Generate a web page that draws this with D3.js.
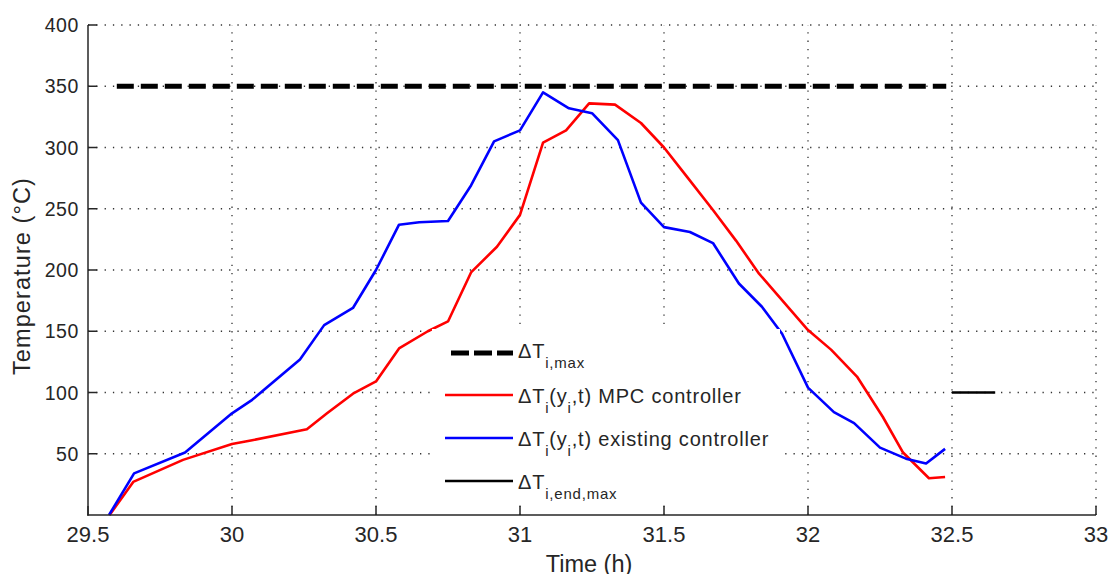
<!DOCTYPE html>
<html><head><meta charset="utf-8">
<script src="https://cdn.jsdelivr.net/npm/d3@7"></script>
<style>body{margin:0;background:#fff}svg{display:block}text{font-family:Arial,"Liberation Sans",sans-serif;fill:#262626}</style>
</head><body><svg id="c" width="1108" height="574"></svg>
<script>
const xTicks = [29.5, 30, 30.5, 31, 31.5, 32, 32.5, 33];
const yTicks = [50, 100, 150, 200, 250, 300, 350, 400];

const mpcTime = [29.575, 29.657, 29.83, 30.0, 30.07, 30.26, 30.33, 30.42, 30.5, 30.58, 30.68, 30.75, 30.83, 30.92, 31.0, 31.08, 31.16, 31.24, 31.33, 31.42, 31.5, 31.58, 31.67, 31.75, 31.83, 32.0, 32.08, 32.17, 32.26, 32.33, 32.42, 32.476];
const mpcTemp = [0, 27, 45, 58, 61, 70, 83, 99, 109, 136, 150, 158, 198, 219, 245, 304, 314, 336, 335, 320, 300, 276, 249, 224, 197, 151, 135, 113, 80, 51, 30, 31];

const existTime = [29.573, 29.66, 29.837, 30.0, 30.07, 30.236, 30.32, 30.42, 30.5, 30.58, 30.65, 30.75, 30.83, 30.91, 31.0, 31.08, 31.17, 31.25, 31.34, 31.42, 31.5, 31.59, 31.67, 31.76, 31.84, 31.91, 32.0, 32.09, 32.16, 32.25, 32.34, 32.41, 32.476];
const existTemp = [0, 34, 51, 83, 94, 127, 155, 169, 200, 237, 239, 240, 269, 305, 314, 345, 332, 328, 306, 255, 235, 231, 222, 189, 170, 148, 104, 84, 75, 55, 46, 42, 54];

const maxTime = [29.6, 32.48];
const maxTemp = [350, 350];
const endTime = [32.5, 32.65];
const endTemp = [100, 100];

const svg = d3.select("#c");
const x = d3.scaleLinear().domain([29.5, 33]).range([88, 1096]);
const y = d3.scaleLinear().domain([0, 400]).range([515, 25]);

const grid = svg.append("g").attr("stroke", "#333").attr("stroke-width", 1.3).attr("stroke-dasharray", "1.3,7");
xTicks.slice(1).forEach(t => grid.append("line").attr("x1", x(t)).attr("x2", x(t)).attr("y1", y(0)).attr("y2", y(400)));
yTicks.forEach(t => grid.append("line").attr("x1", x(29.5)).attr("x2", x(33)).attr("y1", y(t)).attr("y2", y(t)));

const line = d3.line().x(d => x(d[0])).y(d => y(d[1]));
const zip = (a, b) => a.map((v, i) => [v, b[i]]);

svg.append("path").attr("d", line(zip(maxTime, maxTemp))).attr("fill", "none").attr("stroke", "#000").attr("stroke-width", 5).attr("stroke-dasharray", "17,7");
svg.append("path").attr("d", line(zip(endTime, endTemp))).attr("fill", "none").attr("stroke", "#000").attr("stroke-width", 2.5);
svg.append("path").attr("d", line(zip(mpcTime, mpcTemp))).attr("fill", "none").attr("stroke", "#ff0000").attr("stroke-width", 2.6).attr("stroke-linejoin", "round");
svg.append("path").attr("d", line(zip(existTime, existTemp))).attr("fill", "none").attr("stroke", "#0000ff").attr("stroke-width", 2.6).attr("stroke-linejoin", "round");

// legend
const lg = svg.append("g");
lg.append("rect").attr("x", 432).attr("y", 329).attr("width", 348).attr("height", 176).attr("fill", "#fff");
const entries = [
  {ly: 353, by: 358, stroke: "#000", w: 5, dash: "18,5", x1: 451, parts: [["ΔT", 0], ["i,max", 1]]},
  {ly: 395, by: 403, stroke: "#ff0000", w: 2.6, dash: null, x1: 445, parts: [["ΔT", 0], ["i", 1], ["(y", 0], ["i", 1], [",t) MPC controller", 0]]},
  {ly: 438, by: 446, stroke: "#0000ff", w: 2.6, dash: null, x1: 445, parts: [["ΔT", 0], ["i", 1], ["(y", 0], ["i", 1], [",t) existing controller", 0]]},
  {ly: 481, by: 489, stroke: "#000", w: 2.5, dash: null, x1: 445, parts: [["ΔT", 0], ["i,end,max", 1]]}
];
entries.forEach(e => {
  const l = lg.append("line").attr("x1", e.x1).attr("x2", 513).attr("y1", e.ly).attr("y2", e.ly).attr("stroke", e.stroke).attr("stroke-width", e.w);
  if (e.dash) l.attr("stroke-dasharray", e.dash);
  const t = lg.append("text").attr("x", 518).attr("y", e.by).attr("font-size", 20).attr("letter-spacing", 0.8);
  let prev = 0;
  e.parts.forEach(p => {
    const sub = p[1];
    const dy = sub ? 10 : (prev ? -10 : 0);
    t.append("tspan").attr("dy", dy).attr("font-size", sub ? 15 : 20).text(p[0]);
    prev = sub;
  });
});

// axes
const ax = svg.append("g").attr("stroke", "#262626").attr("stroke-width", 1.5);
ax.append("line").attr("x1", x(29.5)).attr("x2", x(29.5)).attr("y1", y(400)).attr("y2", y(0) + 0.75);
ax.append("line").attr("x1", x(29.5) - 0.75).attr("x2", x(33)).attr("y1", y(0)).attr("y2", y(0));
xTicks.forEach(t => ax.append("line").attr("x1", x(t)).attr("x2", x(t)).attr("y1", y(0)).attr("y2", y(0) - 9));
yTicks.forEach(t => ax.append("line").attr("x1", x(29.5)).attr("x2", x(29.5) + 9).attr("y1", y(t)).attr("y2", y(t)));

svg.append("g").selectAll("text").data(xTicks).join("text")
  .attr("x", d => x(d)).attr("y", 542).attr("text-anchor", "middle").attr("font-size", 22).text(d => d);
svg.append("g").selectAll("text").data(yTicks).join("text")
  .attr("x", 79).attr("y", d => y(d) + 7).attr("text-anchor", "end").attr("font-size", 19.5).attr("letter-spacing", 0.6).text(d => d);

svg.append("text").attr("transform", "translate(30,276) rotate(-90)").attr("text-anchor", "middle").attr("font-size", 23.5).attr("letter-spacing", 1.1).text("Temperature (°C)");
svg.append("text").attr("x", 589).attr("y", 572).attr("text-anchor", "middle").attr("font-size", 23.5).text("Time (h)");
</script></body></html>
